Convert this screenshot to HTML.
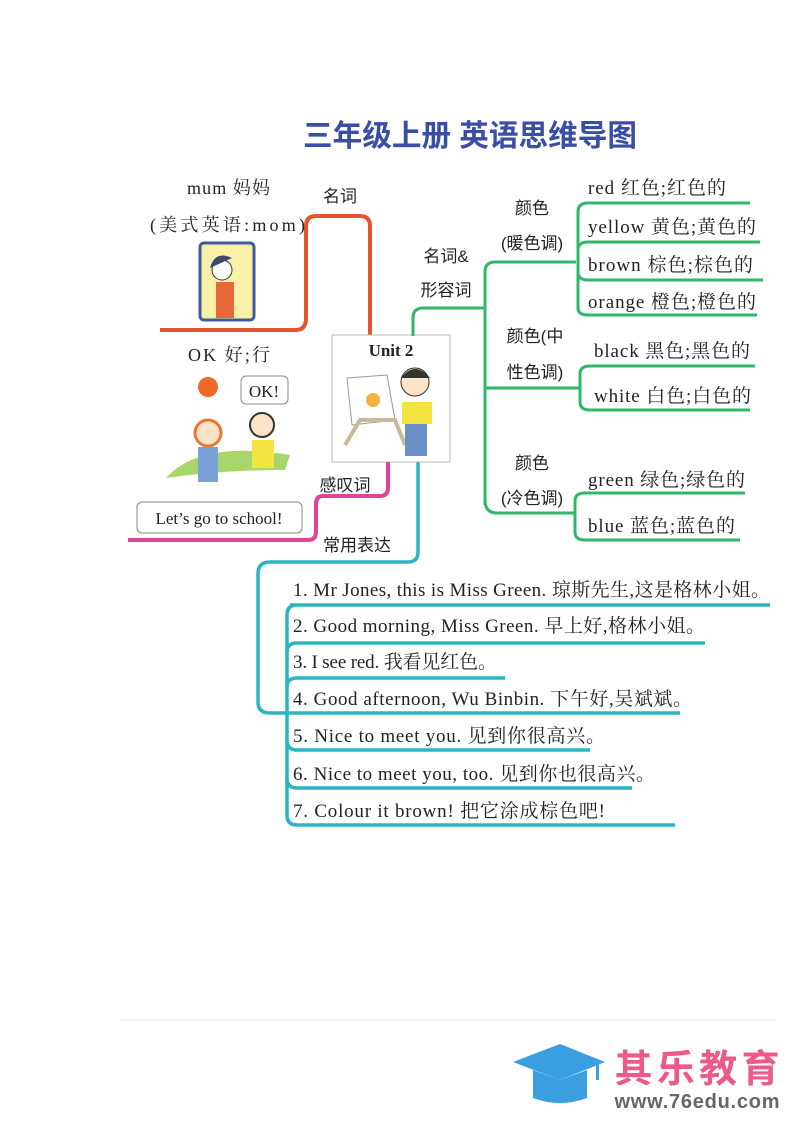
<!DOCTYPE html>
<html><head><meta charset="utf-8"><style>
html,body{margin:0;padding:0;background:#fff;}
svg{display:block}
text{font-family:"Liberation Serif","Noto Serif CJK SC","Noto Sans CJK SC",serif;fill:#222;}
.c{font-family:"Liberation Sans","Noto Sans CJK SC",sans-serif;}
</style></head><body>
<svg width="793" height="1121" viewBox="0 0 793 1121" xmlns="http://www.w3.org/2000/svg">
<text x="470" y="146" text-anchor="middle" class="c" font-size="30" font-weight="bold" style="fill:#3b4ea6" textLength="334" lengthAdjust="spacingAndGlyphs">三年级上册 英语思维导图</text>

<!-- red branch -->
<path d="M160 330 H296 Q306 330 306 318 V226 Q306 216 316 216 H360 Q370 216 370 226 V336" fill="none" stroke="#e8522c" stroke-width="4"/>
<text x="187" y="194" font-size="18" textLength="83">mum 妈妈</text>
<text x="150" y="231" font-size="18" textLength="155">(美式英语:mom)</text>
<text x="340" y="202" text-anchor="middle" class="c" font-size="17">名词</text>
<rect x="200" y="243" width="54" height="77" rx="4" fill="#fbf0a8" stroke="#3b5b9a" stroke-width="3"/>
<circle cx="222" cy="270" r="10" fill="#fff" stroke="#333"/>
<path d="M210 268 Q215 250 232 258" fill="#3b4a6a"/>
<rect x="216" y="282" width="18" height="36" fill="#e8683a"/>

<!-- unit box -->
<rect x="332" y="335" width="118" height="127" fill="#fff" stroke="#bbb"/>
<text x="391" y="356" text-anchor="middle" font-size="17" font-weight="bold">Unit 2</text>
<polygon points="347,378 387,375 395,420 352,425" fill="#fff" stroke="#999"/>
<circle cx="373" cy="400" r="7" fill="#f5b040"/>
<path d="M345 445 L360 420 L395 420 L405 445" fill="none" stroke="#c9b99a" stroke-width="4"/>
<circle cx="415" cy="382" r="14" fill="#fde3c8" stroke="#333"/>
<path d="M401 378 Q415 360 430 378" fill="#333"/>
<rect x="402" y="402" width="30" height="22" fill="#f3e440"/>
<rect x="405" y="424" width="22" height="32" fill="#6a90c8"/>

<!-- green -->
<g fill="none" stroke="#2fb86a" stroke-width="3">
<path d="M413 336 V318 Q413 308 423 308 H485"/>
<path d="M485 505 V272 Q485 262 495 262 H576"/>
<path d="M485 500 Q485 513 497 513 H576"/>
<path d="M485 388 H580"/>
<path d="M588 203 H750 M578 212 Q578 203 588 203"/>
<path d="M578 212 V308 Q578 315 588 315 H757"/>
<path d="M578 250 Q578 242 588 242 H760"/>
<path d="M578 272 Q578 280 588 280 H763"/>
<path d="M590 366 H755 M580 374 Q580 366 590 366"/>
<path d="M580 374 V402 Q580 410 590 410 H750"/>
<path d="M585 493 H745 M575 501 Q575 493 585 493"/>
<path d="M575 501 V532 Q575 540 585 540 H740"/>
</g>
<text x="446" y="262" text-anchor="middle" class="c" font-size="17">名词&amp;</text>
<text x="446" y="296" text-anchor="middle" class="c" font-size="17">形容词</text>
<text x="532" y="214" text-anchor="middle" class="c" font-size="17">颜色</text>
<text x="532" y="249" text-anchor="middle" class="c" font-size="17">(暖色调)</text>
<text x="535" y="342" text-anchor="middle" class="c" font-size="17">颜色(中</text>
<text x="535" y="378" text-anchor="middle" class="c" font-size="17">性色调)</text>
<text x="532" y="469" text-anchor="middle" class="c" font-size="17">颜色</text>
<text x="532" y="504" text-anchor="middle" class="c" font-size="17">(冷色调)</text>
<g font-size="19">
<text x="588" y="194" textLength="138">red 红色;红色的</text>
<text x="588" y="233" textLength="168">yellow 黄色;黄色的</text>
<text x="588" y="271" textLength="165">brown 棕色;棕色的</text>
<text x="588" y="308" textLength="168">orange 橙色;橙色的</text>
<text x="594" y="357" textLength="156">black 黑色;黑色的</text>
<text x="594" y="402" textLength="157">white 白色;白色的</text>
<text x="588" y="486" textLength="157">green 绿色;绿色的</text>
<text x="588" y="532" textLength="147">blue 蓝色;蓝色的</text>
</g>

<!-- pink -->
<path d="M388 462 V488 Q388 496 380 496 H323 Q316 496 316 504 V532 Q316 540 308 540 H128" fill="none" stroke="#e0449a" stroke-width="4"/>
<text x="345" y="491" text-anchor="middle" class="c" font-size="17">感叹词</text>
<text x="188" y="361" font-size="18" textLength="82">OK 好;行</text>
<circle cx="208" cy="387" r="10" fill="#ef6a2a"/>
<rect x="241" y="376" width="47" height="28" rx="5" fill="#fff" stroke="#888"/>
<text x="264" y="397" text-anchor="middle" font-size="17">OK!</text>
<path d="M166 478 Q200 440 290 455 L285 470 Q220 470 166 478Z" fill="#a8d66a"/>
<circle cx="208" cy="433" r="13" fill="#fde3c8" stroke="#e8783a" stroke-width="3"/>
<rect x="198" y="447" width="20" height="35" fill="#7aa2d8"/>
<circle cx="262" cy="425" r="12" fill="#fde3c8" stroke="#333" stroke-width="2"/>
<rect x="252" y="440" width="22" height="28" fill="#f3e440"/>
<rect x="137" y="502" width="165" height="31" rx="5" fill="#fff" stroke="#888"/>
<text x="219" y="524" text-anchor="middle" font-size="17">Let’s go to school!</text>

<!-- teal -->
<g fill="none" stroke="#2bb5c4" stroke-width="3.5">
<path d="M418 462 V552 Q418 562 408 562 H270 Q258 562 258 574 V702 Q258 713 270 713 H680"/>
<path d="M290 605 H770 M287 615 Q287 605 297 605"/>
<path d="M287 615 V815 Q287 825 297 825 H675"/>
<path d="M287 652 Q287 643 297 643 H705"/>
<path d="M287 687 Q287 678 297 678 H505"/>
<path d="M287 740 Q287 750 297 750 H590"/>
<path d="M287 778 Q287 788 297 788 H632"/>
</g>
<text x="357" y="551" text-anchor="middle" class="c" font-size="17">常用表达</text>
<g font-size="19">
<text x="293" y="596" textLength="477">1. Mr Jones, this is Miss Green. 琼斯先生,这是格林小姐。</text>
<text x="293" y="632" textLength="412">2. Good morning, Miss Green. 早上好,格林小姐。</text>
<text x="293" y="668" textLength="204">3. I see red. 我看见红色。</text>
<text x="293" y="705" textLength="399">4. Good afternoon, Wu Binbin. 下午好,吴斌斌。</text>
<text x="293" y="742" textLength="312">5. Nice to meet you. 见到你很高兴。</text>
<text x="293" y="780" textLength="362">6. Nice to meet you, too. 见到你也很高兴。</text>
<text x="293" y="817" textLength="312">7. Colour it brown! 把它涂成棕色吧!</text>
</g>

<line x1="120" y1="1020" x2="775" y2="1020" stroke="#eee"/>
<polygon points="513,1062 560,1044 605,1062 560,1080" fill="#3a9ee0"/>
<path d="M533 1070 V1098 Q560 1108 587 1098 V1070 L560 1080Z" fill="#3a9ee0"/>
<rect x="596" y="1062" width="3" height="18" fill="#3a9ee0"/>
<text x="697" y="1082" text-anchor="middle" class="c" font-size="38" font-weight="bold" style="fill:#ec5a8c" textLength="165">其乐教育</text>
<text x="697" y="1108" text-anchor="middle" class="c" font-size="20" font-weight="bold" style="fill:#666" textLength="165">www.76edu.com</text>
</svg>
</body></html>
